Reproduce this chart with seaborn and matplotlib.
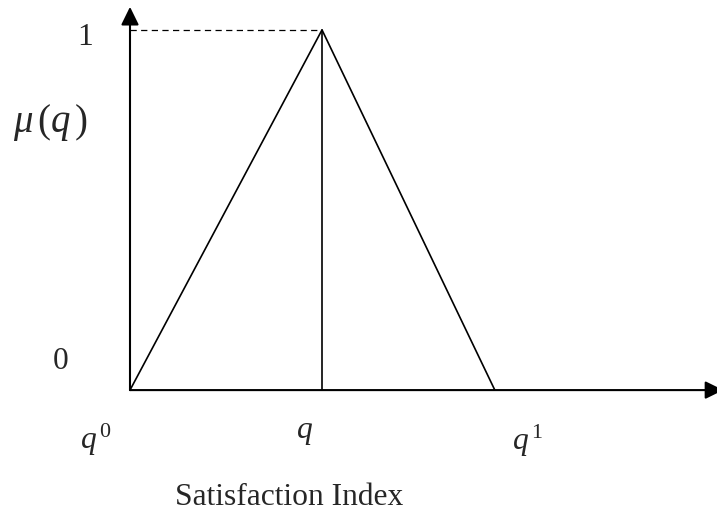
import matplotlib
matplotlib.use("Agg")
import matplotlib.pyplot as plt
import seaborn as sns
import pandas as pd

# Triangular membership function of the satisfaction index
q_points = [0.0, 1.0, 1.90]      # q0, q, q1
mu_values = [0.0, 1.0, 0.0]      # membership degree at those points

level_labels = ["0", "1"]
x_labels = [r"$q^{\,0}$", r"$q$", r"$q^{\,1}$"]
y_title = r"$\mu\,(q\,)$"
x_title = "Satisfaction Index"

sns.set_theme(style="white")
plt.rcParams["font.family"] = ["Liberation Serif", "DejaVu Serif"]
plt.rcParams["mathtext.fontset"] = "custom"
plt.rcParams["mathtext.rm"] = "Liberation Serif"
plt.rcParams["mathtext.it"] = "Liberation Serif:italic"

fig = plt.figure(figsize=(7.17, 5.14), dpi=100)
ax = fig.add_axes([0, 0, 1, 1])
ax.set_xlim(-0.677, 3.057)
ax.set_ylim(-0.344, 1.083)
ax.axis("off")

df = pd.DataFrame({"q": q_points, "mu": mu_values})
sns.lineplot(data=df, x="q", y="mu", color="black", lw=1.2, ax=ax,
             sort=False, estimator=None)

# vertical drop from the peak and dashed guide to the level 1
peak_q = q_points[1]
peak_mu = mu_values[1]
sns.lineplot(x=[peak_q, peak_q], y=[0, peak_mu], color="black", lw=1.2,
             ax=ax, estimator=None)
sns.lineplot(x=[0, peak_q], y=[peak_mu, peak_mu], color="black", lw=0.9,
             ax=ax, estimator=None, linestyle=(0, (5, 3.5)))

# coordinate axes with arrow heads
arrow = dict(arrowstyle="-|>,head_length=0.55,head_width=0.27",
             color="black", lw=1.5, shrinkA=0, shrinkB=0, mutation_scale=20)
ax.annotate("", xy=(0, 1.064), xytext=(0, 0), arrowprops=arrow,
            annotation_clip=False)
ax.annotate("", xy=(3.09, 0), xytext=(0, 0), arrowprops=arrow,
            annotation_clip=False)

fs = 22.7
ax.text(-0.359, 0.08, level_labels[0], fontsize=fs, ha="center", va="center")
ax.text(-0.234, 0.98, level_labels[1], fontsize=fs, ha="center", va="center")
ax.text(-0.417, 0.744, y_title, fontsize=28, ha="center", va="center")

label_pos = [(-0.177, -0.139), (0.911, -0.117), (2.07, -0.142)]
for lab, (lx, ly) in zip(x_labels, label_pos):
    ax.text(lx, ly, lab, fontsize=fs, ha="center", va="center")

ax.text(0.828, -0.297, x_title, fontsize=fs, ha="center", va="center")

fig.savefig("out.png", dpi=100)
